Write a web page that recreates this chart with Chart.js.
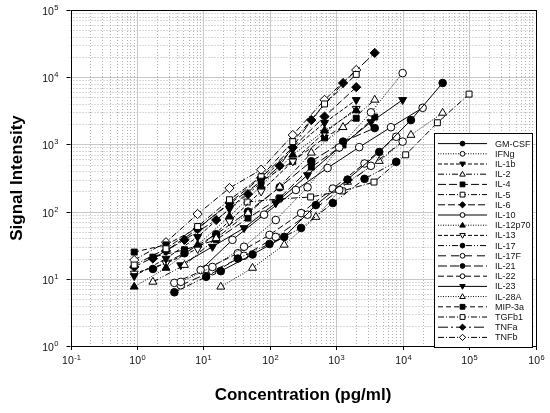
<!DOCTYPE html>
<html><head><meta charset="utf-8">
<script src="https://cdn.jsdelivr.net/npm/chart.js@4/dist/chart.umd.min.js"></script>
<style>html,body{margin:0;padding:0;background:#fff;}#wrap{width:550px;height:413px;position:relative;}</style>
</head><body><div id="wrap"><canvas id="c" width="550" height="413"></canvas></div>
<script>
// ---- concentrations (3-fold dilution series, pg/ml) ----
const conc2000   = [0.91, 2.74, 8.2, 24.7, 74, 222, 667, 2000];
const conc3800   = [1.74, 5.2, 15.6, 47, 141, 422, 1267, 3800];
const conc8000   = [3.66, 11, 33, 99, 296, 889, 2667, 8000];
const conc10000  = [4.57, 13.7, 41, 123, 370, 1111, 3333, 10000];
const conc20000  = [9.1, 27.4, 82, 247, 741, 2222, 6667, 20000];
const conc40000  = [18.3, 55, 165, 494, 1481, 4444, 13333, 40000];
const conc100000 = [45.7, 137, 412, 1235, 3704, 11111, 33333, 100000];

// ---- signal intensities ----
const gmcsf   = [13, 23, 42, 125, 300, 770, 2300, 8200];
const ifng    = [9, 15, 30, 75, 230, 900, 3000, 11500];
const il1b    = [11, 20, 42, 110, 290, 850, 2100, 4600];
const il2     = [9, 16, 40, 95, 233, 750, 1800, 4600];
const il4     = [21, 27, 38, 80, 160, 460, 980, 2550];
const il5     = [16, 28, 60, 150, 330, 1100, 4000, 11000];
const il6     = [15, 26, 55, 135, 320, 900, 2600, 7100];
const il10    = [13.5, 38, 90, 210, 445, 910, 1800, 3500];
const il12p70 = [7.6, 14.5, 32, 85, 240, 700, 1600, 3200];
const il13    = [12, 17, 28, 72, 200, 560, 1500, 3400];
const il17    = [6.3, 10.7, 20, 33, 57, 134, 307, 550];
const il17f   = [8, 13, 22, 42, 90, 210, 480, 1100];
const il21    = [14, 24, 46, 100, 230, 560, 1100, 1750];
const il22    = [8.7, 14, 24, 45, 95, 220, 520, 1300];
const il23    = [16, 30, 57, 134, 350, 900, 2150, 4600];
const il28a   = [7.6, 14.5, 32, 83, 276, 565, 1380, 2940];
const mip3a   = [25, 32, 57, 130, 280, 560, 1250, 2450];
const tgfb1   = [139, 154, 165, 203, 275, 700, 2100, 5600];
const tnfa    = [20, 38, 75, 182, 480, 2300, 8200, 23000];
const tnfb    = [19, 35, 92, 224, 420, 1380, 4600, 12800];

const seriesNames = ["GM-CSF","IFNg","IL-1b","IL-2","IL-4","IL-5","IL-6","IL-10","IL-12p70","IL-13",
  "IL-17","IL-17F","IL-21","IL-22","IL-23","IL-28A","MIP-3a","TGFb1","TNFa","TNFb"];
const seriesConc = [conc40000, conc10000, conc2000, conc3800, conc3800, conc2000, conc2000, conc20000, conc2000, conc2000,
  conc8000, conc10000, conc3800, conc8000, conc10000, conc40000, conc2000, conc100000, conc3800, conc2000];
const seriesVals = [gmcsf, ifng, il1b, il2, il4, il5, il6, il10, il12p70, il13,
  il17, il17f, il21, il22, il23, il28a, mip3a, tgfb1, tnfa, tnfb];

const xTickExps = [-1, 0, 1, 2, 3, 4, 5, 6];
const yTickExps = [0, 1, 2, 3, 4, 5];

// ---- styles ----
const styles = [
  {m:'circle', fill:true, dash:[]},                 // GM-CSF
  {m:'circle', fill:false, dash:[1,1.5]},           // IFNg
  {m:'triangle', rot:180, fill:true, dash:[4,2]},   // IL-1b
  {m:'triangle', fill:false, dash:[6,2,1,2,1,2]},   // IL-2
  {m:'rect', fill:true, dash:[8,3]},                // IL-4
  {m:'rect', fill:false, dash:[6,2,1,2]},           // IL-5
  {m:'rectRot', fill:true, dash:[7,3]},             // IL-6
  {m:'circle', fill:false, dash:[]},                // IL-10
  {m:'triangle', fill:true, dash:[1,1.5]},          // IL-12p70
  {m:'triangle', rot:180, fill:false, dash:[4,2]},  // IL-13
  {m:'circle', fill:true, dash:[6,2,1,2,1,2]},      // IL-17
  {m:'circle', fill:false, dash:[8,5]},             // IL-17F
  {m:'circle', fill:true, dash:[9,3]},              // IL-21
  {m:'circle', fill:false, dash:[6,3]},             // IL-22
  {m:'triangle', rot:180, fill:true, dash:[]},      // IL-23
  {m:'triangle', fill:false, dash:[1,1.5]},         // IL-28A
  {m:'rect', fill:true, dash:[5,3]},                // MIP-3a
  {m:'rect', fill:false, dash:[6,2,1,2]},           // TGFb1
  {m:'rectRot', fill:true, dash:[10,3,2,3]},        // TNFa
  {m:'rectRot', fill:false, dash:[6,2,1,2]}         // TNFb
];
function radiusFor(m){ return m==='circle'?3.8 : m==='rect'?4.2 : m==='rectRot'?4.6 : 4.6; }

const datasets = seriesNames.map((n,i)=>({
  label:n,
  data: seriesConc[i].map((x,j)=>({x:x, y:seriesVals[i][j]})),
  showLine:true,
  borderColor:'#000', borderWidth:1, borderDash:styles[i].dash,
  pointStyle:styles[i].m, pointRotation:styles[i].rot||0,
  pointRadius:radiusFor(styles[i].m), pointHoverRadius:radiusFor(styles[i].m),
  pointBorderWidth:1, pointBorderColor:'#000',
  pointBackgroundColor: styles[i].fill?'#000':'#fff',
  fill:false, tension:0
}));

function drawMarker(ctx, st, x, y, r){
  ctx.save();
  ctx.setLineDash([]);
  ctx.lineWidth = 1;
  ctx.strokeStyle = '#000';
  ctx.fillStyle = st.fill ? '#000' : '#fff';
  ctx.beginPath();
  if (st.m==='circle'){ ctx.arc(x,y,r,0,Math.PI*2); }
  else if (st.m==='rect'){ ctx.rect(x-r,y-r,2*r,2*r); }
  else if (st.m==='rectRot'){ ctx.moveTo(x,y-r*1.3); ctx.lineTo(x+r*1.3,y); ctx.lineTo(x,y+r*1.3); ctx.lineTo(x-r*1.3,y); ctx.closePath(); }
  else { const s = st.rot ? -1 : 1; ctx.moveTo(x,y-s*r*1.2); ctx.lineTo(x+r*1.15,y+s*r*0.8); ctx.lineTo(x-r*1.15,y+s*r*0.8); ctx.closePath(); }
  ctx.fill(); ctx.stroke();
  ctx.restore();
}

function powLabel(ctx, exp, x, y, align, big, small){
  const base='10', e=String(exp);
  ctx.font = big+'px "Liberation Sans", Arial, sans-serif';
  const wb = ctx.measureText(base).width;
  ctx.font = small+'px "Liberation Sans", Arial, sans-serif';
  const we = ctx.measureText(e).width;
  const total = wb + we + 0.5;
  let left = align==='center' ? x - total/2 : x - total;
  ctx.fillStyle = '#111';
  ctx.textAlign = 'left'; ctx.textBaseline = 'alphabetic';
  ctx.font = big+'px "Liberation Sans", Arial, sans-serif';
  ctx.fillText(base, left, y);
  ctx.font = small+'px "Liberation Sans", Arial, sans-serif';
  ctx.fillText(e, left + wb + 0.5, y - big*0.42);
}

const framePlugin = {
  id:'frame',
  beforeDatasetsDraw(chart){
    const {ctx, chartArea:a, scales:{x:xs, y:ys}} = chart;
    ctx.save();
    ctx.lineWidth = 1;
    // minor grid
    ctx.strokeStyle = '#b4b4b4'; ctx.setLineDash([1,2]);
    for (let d=-1; d<6; d++) for (let k=2; k<=9; k++){
      const px = Math.round(xs.getPixelForValue(k*Math.pow(10,d)))+0.5;
      ctx.beginPath(); ctx.moveTo(px,a.top); ctx.lineTo(px,a.bottom); ctx.stroke();
    }
    for (let d=0; d<5; d++) for (let k=2; k<=9; k++){
      const py = Math.round(ys.getPixelForValue(k*Math.pow(10,d)))+0.5;
      ctx.beginPath(); ctx.moveTo(a.left,py); ctx.lineTo(a.right,py); ctx.stroke();
    }
    // major grid
    ctx.setLineDash([]); ctx.strokeStyle = '#c8c8c8';
    xTickExps.forEach(e=>{
      const px = Math.round(xs.getPixelForValue(Math.pow(10,e)))+0.5;
      ctx.beginPath(); ctx.moveTo(px,a.top); ctx.lineTo(px,a.bottom); ctx.stroke();
    });
    yTickExps.forEach(e=>{
      const py = Math.round(ys.getPixelForValue(Math.pow(10,e)))+0.5;
      ctx.beginPath(); ctx.moveTo(a.left,py); ctx.lineTo(a.right,py); ctx.stroke();
    });
    ctx.restore();
  },
  afterDatasetsDraw(chart){
    const {ctx, chartArea:a, scales:{x:xs, y:ys}} = chart;
    ctx.save();
    // frame
    ctx.setLineDash([]); ctx.strokeStyle = '#000'; ctx.lineWidth = 1;
    ctx.strokeRect(Math.round(a.left)+0.5, Math.round(a.top)+0.5, Math.round(a.right-a.left), Math.round(a.bottom-a.top));
    // ticks + labels
    xTickExps.forEach(e=>{
      const px = Math.round(xs.getPixelForValue(Math.pow(10,e)))+0.5;
      ctx.beginPath(); ctx.moveTo(px,a.bottom); ctx.lineTo(px,a.bottom+4); ctx.stroke();
      powLabel(ctx, e, px, a.bottom+18, 'center', 10.5, 7.5);
    });
    yTickExps.forEach(e=>{
      const py = Math.round(ys.getPixelForValue(Math.pow(10,e)))+0.5;
      ctx.beginPath(); ctx.moveTo(a.left-4,py); ctx.lineTo(a.left,py); ctx.stroke();
      powLabel(ctx, e, a.left-12, py+4, 'right', 10.5, 7.5);
    });
    // axis titles
    ctx.fillStyle = '#000';
    ctx.font = 'bold 17px "Liberation Sans", Arial, sans-serif';
    ctx.textAlign = 'center'; ctx.textBaseline = 'alphabetic';
    ctx.fillText('Concentration (pg/ml)', (a.left+a.right)/2 + 0, 400);
    ctx.save();
    ctx.translate(22, (a.top+a.bottom)/2);
    ctx.rotate(-Math.PI/2);
    ctx.fillText('Signal Intensity', 0, 0);
    ctx.restore();
    // legend
    const lx = 434, ly = 133, lw = 98, lh = 214;
    ctx.fillStyle = '#fff';
    ctx.fillRect(lx, ly, lw, lh);
    ctx.strokeStyle = '#000'; ctx.lineWidth = 1;
    ctx.strokeRect(lx+0.5, ly+0.5, lw, lh);
    chart.data.datasets.forEach((ds,i)=>{
      const y = 143.6 + i*10.2;
      ctx.save();
      ctx.strokeStyle = '#000'; ctx.lineWidth = 1;
      ctx.setLineDash(styles[i].dash);
      ctx.beginPath(); ctx.moveTo(438, y); ctx.lineTo(487, y); ctx.stroke();
      ctx.restore();
      drawMarker(ctx, styles[i], 462.5, y, 2.4);
      ctx.fillStyle = '#111';
      ctx.font = '9px "Liberation Sans", Arial, sans-serif';
      ctx.textAlign = 'left'; ctx.textBaseline = 'middle';
      ctx.fillText(ds.label, 495, y+0.5);
    });
    ctx.restore();
  }
};

new Chart(document.getElementById('c'), {
  type:'scatter',
  data:{datasets},
  options:{
    responsive:false, animation:false, devicePixelRatio:1,
    layout:{padding:{left:0, top:10, right:14.5, bottom:0}},
    plugins:{legend:{display:false}, tooltip:{enabled:false}},
    scales:{
      x:{type:'logarithmic', min:0.1, max:1e6,
         ticks:{display:false}, grid:{display:false}, border:{display:false},
         afterFit(s){ s.height = 67; }},
      y:{type:'logarithmic', min:1, max:1e5,
         ticks:{display:false}, grid:{display:false}, border:{display:false},
         afterFit(s){ s.width = 70.5; }}
    }
  },
  plugins:[framePlugin]
});
</script></body></html>
